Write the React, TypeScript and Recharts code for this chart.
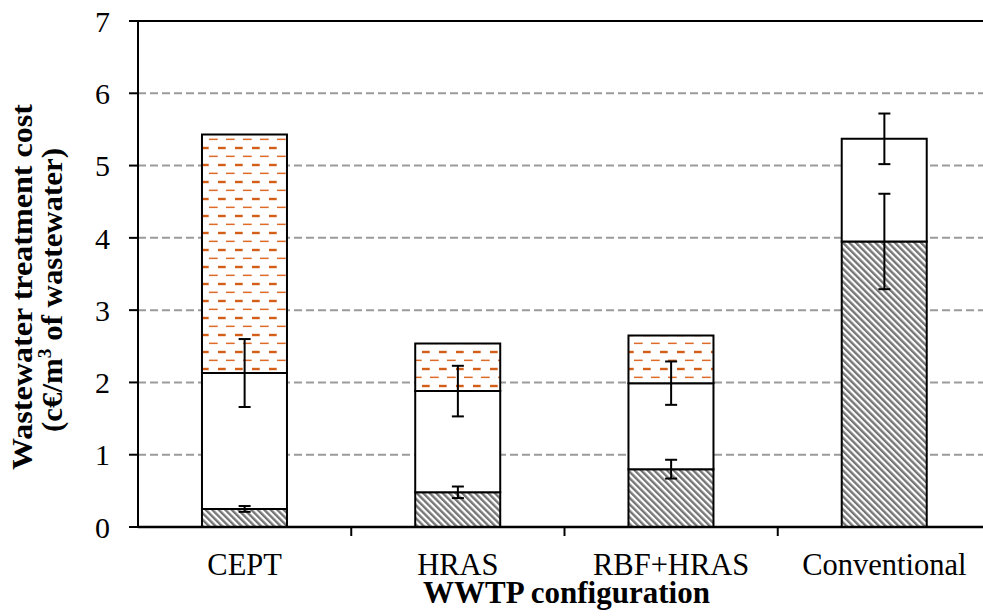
import React from 'react';
import { ComposedChart, Bar, Scatter, ErrorBar, XAxis, YAxis, CartesianGrid, ReferenceLine, Label } from 'recharts';

const categories = ['CEPT', 'HRAS', 'RBF+HRAS', 'Conventional'];
const lowerPart = [0.25, 0.48, 0.8, 3.95];
const middlePart = [1.88, 1.4, 1.19, 1.42];
const upperPart = [3.3, 0.66, 0.66, 0];
const lowerErr = [0.04, 0.08, 0.13, 0.66];
const middleErr = [0.47, 0.35, 0.3, 0.35];
const yTicks = [0, 1, 2, 3, 4, 5, 6, 7];

const data = categories.map((name, i) => ({
  name,
  lower: lowerPart[i],
  middle: middlePart[i],
  upper: upperPart[i],
  lowerTop: lowerPart[i],
  middleTop: lowerPart[i] + middlePart[i],
  lowerErr: lowerErr[i],
  middleErr: middleErr[i],
}));

const FONT = '"Liberation Serif", "Times New Roman", serif';
const W = 1000;
const H = 616;
const Y_AXIS_W = 138;
const X_AXIS_H = 89;
const MARGIN = { top: 21, right: 9, bottom: 0, left: 0 };
const PLOT_BOTTOM = H - MARGIN.bottom - X_AXIS_H;
const BAND = (W - MARGIN.left - MARGIN.right - Y_AXIS_W) / categories.length;

// category label + tick mark on the boundary to the right of it
const XTick = (props: any) => {
  const { x, y, payload, index } = props;
  return (
    <g>
      <text x={x} y={y} dy="0.71em" textAnchor="middle" fontFamily={FONT} fontSize={30.5} fill="#000">
        {payload.value}
      </text>
      {index < categories.length - 1 && (
        <line x1={x + BAND / 2} x2={x + BAND / 2} y1={PLOT_BOTTOM} y2={PLOT_BOTTOM + 9} stroke="#000" strokeWidth={2} />
      )}
    </g>
  );
};

const YTitle = () => (
  <g fontFamily={FONT} fontWeight="bold" fontSize={30} fill="#000">
    <text transform="translate(32,287) rotate(-90)" textAnchor="middle" textLength={366} lengthAdjust="spacingAndGlyphs">
      Wastewater treatment cost
    </text>
    <text transform="translate(62,290) rotate(-90)" textAnchor="middle" textLength={284} lengthAdjust="spacingAndGlyphs">
      <tspan>(c€/m</tspan>
      <tspan dy={-11} fontSize={19}>3</tspan>
      <tspan dy={11}> of wastewater)</tspan>
    </text>
  </g>
);

const XTitle = (props: any) => {
  const vb = props.viewBox || { x: Y_AXIS_W, width: W - Y_AXIS_W - MARGIN.right };
  return (
    <text x={vb.x + vb.width / 2 + 2} y={603} textAnchor="middle" fontFamily={FONT} fontWeight="bold" fontSize={31} fill="#000">
      WWTP configuration
    </text>
  );
};

const App = () => {
  return (
    <div style={{ position: 'absolute', left: 0, top: 0, width: 983, height: 616, overflow: 'hidden', background: '#fff' }}>
      <ComposedChart width={W} height={H} data={data} margin={MARGIN} barCategoryGap="30%">
        <defs>
          <pattern id="hatch" patternUnits="userSpaceOnUse" width={4.6} height={4.6} patternTransform="rotate(-45)">
            <rect width={4.6} height={4.6} fill="#fff" />
            <rect width={2.4} height={4.6} fill="#767676" />
          </pattern>
          <pattern id="dashes" patternUnits="userSpaceOnUse" width={17} height={17}>
            <rect width={17} height={17} fill="#fff" />
            <rect x={5} y={2.6} width={8.7} height={1.5} fill="#DE6C28" />
            <rect x={14} y={10.8} width={3} height={2.4} fill="#D35E17" />
            <rect x={0} y={10.8} width={4.7} height={2.4} fill="#D35E17" />
          </pattern>
        </defs>
        <CartesianGrid vertical={false} stroke="#9b9b9b" strokeWidth={2} strokeDasharray="8 4" />
        <XAxis
          dataKey="name"
          height={X_AXIS_H}
          axisLine={{ stroke: '#000', strokeWidth: 2.5 }}
          tickLine={false}
          tickSize={9}
          tickMargin={17}
          tick={<XTick />}
          interval={0}
        >
          <Label content={<XTitle />} />
        </XAxis>
        <YAxis
          width={Y_AXIS_W}
          domain={[0, 7]}
          ticks={yTicks}
          interval={0}
          axisLine={{ stroke: '#000', strokeWidth: 2 }}
          tickLine={{ stroke: '#000', strokeWidth: 2 }}
          tickSize={9}
          tickMargin={19}
          tick={{ fontFamily: FONT, fontSize: 30, fill: '#000' }}
        >
          <Label content={<YTitle />} />
        </YAxis>
        <ReferenceLine y={7} stroke="#000" strokeWidth={2} />
        <Bar dataKey="lower" stackId="s" fill="url(#hatch)" stroke="#000" strokeWidth={2} isAnimationActive={false} />
        <Bar dataKey="middle" stackId="s" fill="#fff" stroke="#000" strokeWidth={2} isAnimationActive={false} />
        <Bar dataKey="upper" stackId="s" fill="url(#dashes)" stroke="#000" strokeWidth={2} isAnimationActive={false} />
        <Scatter dataKey="lowerTop" shape={() => <g />} isAnimationActive={false}>
          <ErrorBar dataKey="lowerErr" direction="y" width={6} stroke="#000" strokeWidth={2} isAnimationActive={false} />
        </Scatter>
        <Scatter dataKey="middleTop" shape={() => <g />} isAnimationActive={false}>
          <ErrorBar dataKey="middleErr" direction="y" width={6} stroke="#000" strokeWidth={2} isAnimationActive={false} />
        </Scatter>
      </ComposedChart>
    </div>
  );
};

export default App;
